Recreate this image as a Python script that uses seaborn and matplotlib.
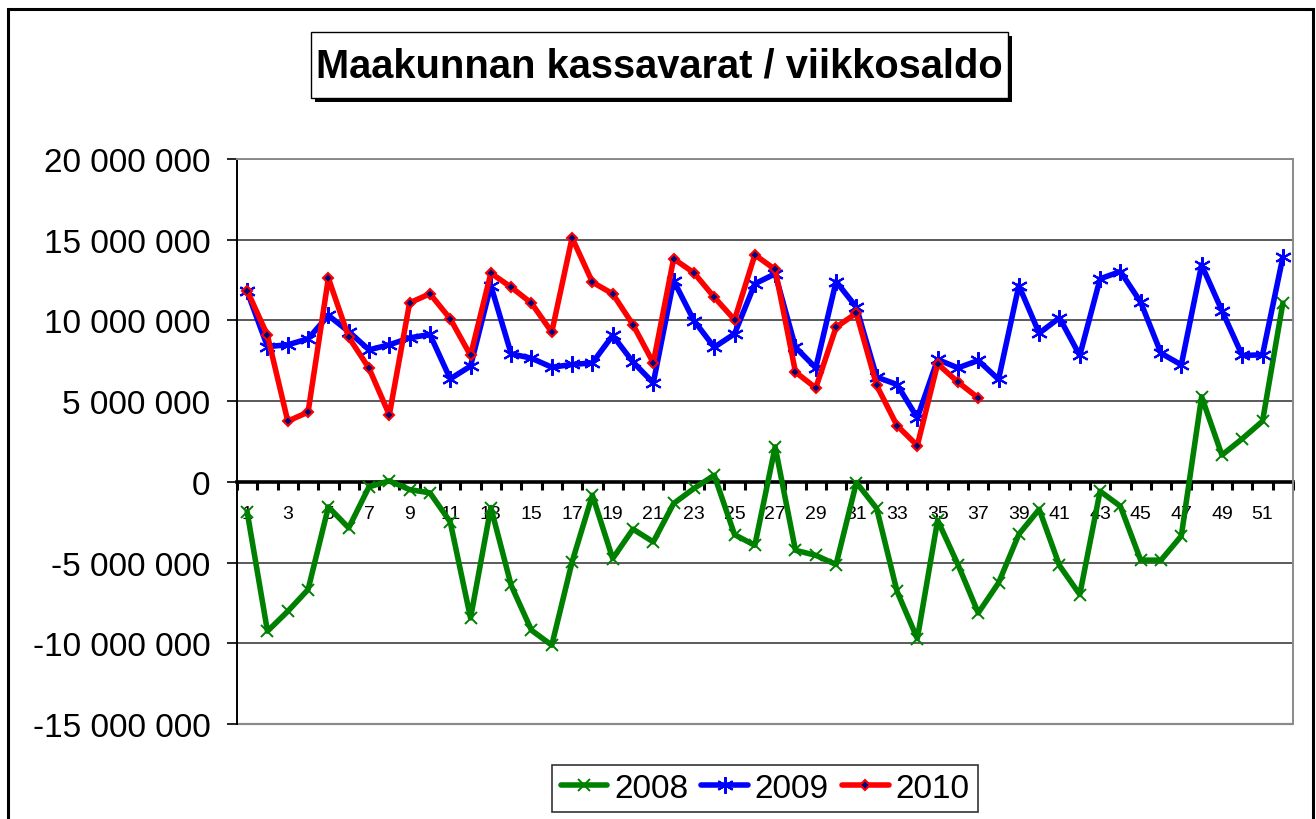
import numpy as np
import pandas as pd
import matplotlib
matplotlib.use("Agg")
import matplotlib.pyplot as plt
import matplotlib.patches as mpatches
from matplotlib.ticker import FixedLocator, FuncFormatter, NullFormatter
import seaborn as sns

weeks = list(range(1, 53))

y2008 = [-1.86, -9.25, -8.02, -6.67, -1.55, -2.85, -0.31, 0.06, -0.48, -0.68,
         -2.48, -8.43, -1.59, -6.41, -9.19, -10.12, -4.96, -0.83, -4.75, -2.93,
         -3.72, -1.34, -0.41, 0.41, -3.27, -3.93, 2.17, -4.24, -4.55, -5.12,
         -0.04, -1.65, -6.78, -9.71, -2.38, -5.12, -8.12, -6.26, -3.25, -1.70,
         -5.18, -6.98, -0.58, -1.51, -4.85, -4.85, -3.35, 5.27, 1.66, 2.67,
         3.76, 11.07]
y2009 = [11.8, 8.38, 8.49, 8.86, 10.31, 9.31, 8.18, 8.49, 8.92, 9.13,
         6.38, 7.17, 12.16, 7.93, 7.66, 7.10, 7.27, 7.37, 9.07, 7.42,
         6.13, 12.47, 9.99, 8.34, 9.17, 12.27, 12.89, 8.34, 7.06, 12.41,
         10.82, 6.49, 6.03, 3.97, 7.58, 7.06, 7.52, 6.35, 12.16, 9.21,
         10.16, 7.83, 12.58, 13.03, 11.13, 7.97, 7.25, 13.44, 10.61, 7.83,
         7.87, 13.92]
y2010 = [11.85, 9.07, 3.76, 4.32, 12.62, 8.96, 7.04, 4.15, 11.09, 11.65,
         10.10, 7.83, 12.93, 12.06, 11.07, 9.27, 15.12, 12.37, 11.65, 9.73,
         7.37, 13.82, 12.95, 11.44, 10.04, 14.06, 13.16, 6.80, 5.82, 9.58,
         10.45, 5.97, 3.49, 2.25, 7.31, 6.18, 5.20]

series_names = ["2008", "2009", "2010"]
title_text = "Maakunnan kassavarat / viikkosaldo"
y_ticks = [-15e6, -10e6, -5e6, 0, 5e6, 10e6, 15e6, 20e6]

sns.set_style("white")
plt.rcParams["font.family"] = ["Liberation Sans", "DejaVu Sans"]
plt.rcParams["text.color"] = "black"
plt.rcParams["xtick.color"] = "black"
plt.rcParams["ytick.color"] = "black"

W, H = 1316, 820
fig = plt.figure(figsize=(W / 100, H / 100), dpi=100)
ax = fig.add_axes([237 / W, 1 - 725 / H, (1293 - 237) / W, (725 - 160) / H])

df08 = pd.DataFrame({"week": weeks, "value": np.array(y2008) * 1e6})
df09 = pd.DataFrame({"week": weeks, "value": np.array(y2009) * 1e6})
df10 = pd.DataFrame({"week": weeks[:len(y2010)], "value": np.array(y2010) * 1e6})

lw = 4.0
sns.lineplot(data=df08, x="week", y="value", ax=ax, color="#008000", lw=lw,
             marker="x", markersize=8, markeredgewidth=1.4,
             markeredgecolor="#008000", label=series_names[0], zorder=3)
sns.lineplot(data=df09, x="week", y="value", ax=ax, color="#0000FF", lw=lw,
             marker=(6, 2, 0), markersize=12, markeredgewidth=1.5,
             markeredgecolor="#0000FF", label=series_names[1], zorder=4)
sns.lineplot(data=df10, x="week", y="value", ax=ax, color="#FF0000", lw=lw,
             marker="D", markersize=5, markeredgewidth=1.5,
             markerfacecolor="#000080", markeredgecolor="#FF0000",
             label=series_names[2], zorder=5)

ax.set_xlim(0.5, 52.5)
ax.set_ylim(-15e6, 20e6)
ax.set_xlabel("")
ax.set_ylabel("")

# y axis
ax.yaxis.set_major_locator(FixedLocator(y_ticks))
ax.yaxis.set_major_formatter(FuncFormatter(lambda v, p: f"{int(round(v)):,}".replace(",", " ")))
ax.tick_params(axis="y", which="major", direction="out", length=7.5, width=1.2,
               color="black", labelsize=24, pad=11.5, left=True, labelcolor="black")
ax.yaxis.grid(True, color="#5a5a5a", lw=1.4)
ax.set_axisbelow(True)

# x axis at zero
ax.spines["bottom"].set_position(("data", 0))
ax.spines["bottom"].set_color("black")
ax.spines["bottom"].set_linewidth(2.6)
ax.spines["bottom"].set_zorder(2)
ax.xaxis.set_major_locator(FixedLocator(np.arange(0.5, 53, 1.0)))
ax.xaxis.set_major_formatter(NullFormatter())
ax.xaxis.set_minor_locator(FixedLocator(weeks[::2]))
ax.xaxis.set_minor_formatter(FuncFormatter(lambda v, p: f"{int(v)}"))
ax.tick_params(axis="x", which="major", direction="out", length=6, width=2.2,
               color="black", bottom=True)
ax.tick_params(axis="x", which="minor", length=0, labelsize=14, pad=17,
               bottom=True, labelcolor="black")

ax.spines["left"].set_color("black")
ax.spines["left"].set_linewidth(1.4)
for s in ["top", "right"]:
    ax.spines[s].set_color("#8a8a8a")
    ax.spines[s].set_linewidth(1.4)
ax.axhline(-15e6, color="#8a8a8a", lw=1.6, clip_on=False, zorder=1)

# legend
handles, labels = ax.get_legend_handles_labels()
ax.get_legend().remove()
leg = fig.legend(handles, labels, loc="center", ncol=3,
                 bbox_to_anchor=(765 / W, 1 - 789.5 / H),
                 frameon=True, fancybox=False, edgecolor="black",
                 fontsize=24, handlelength=1.4, handletextpad=0.2,
                 columnspacing=0.4, borderpad=0.25, borderaxespad=0)
leg.get_frame().set_linewidth(1.2)

# title box with shadow
bx0, bx1, by0, by1 = 311, 1008, 33, 99
fig.patches.append(mpatches.Rectangle((bx0 / W + 4 / W, 1 - (by1 + 4) / H),
                                      (bx1 - bx0) / W, (by1 - by0) / H,
                                      transform=fig.transFigure, facecolor="black",
                                      edgecolor="none", zorder=1))
fig.patches.append(mpatches.Rectangle((bx0 / W, 1 - by1 / H),
                                      (bx1 - bx0) / W, (by1 - by0) / H,
                                      transform=fig.transFigure, facecolor="white",
                                      edgecolor="black", lw=1.0, zorder=2))
fig.text((bx0 + bx1) / 2 / W, 1 - 67 / H, title_text, ha="center", va="center",
         fontsize=28.7, fontweight="bold", color="black", zorder=3)

# outer border
fig.patches.append(mpatches.Rectangle((8 / W, -0.05), (1313 - 8) / W, 1.05 - 10 / H,
                                      transform=fig.transFigure, facecolor="none",
                                      edgecolor="black", lw=2.2, zorder=0))

fig.savefig("out.png", dpi=100, facecolor="white")
